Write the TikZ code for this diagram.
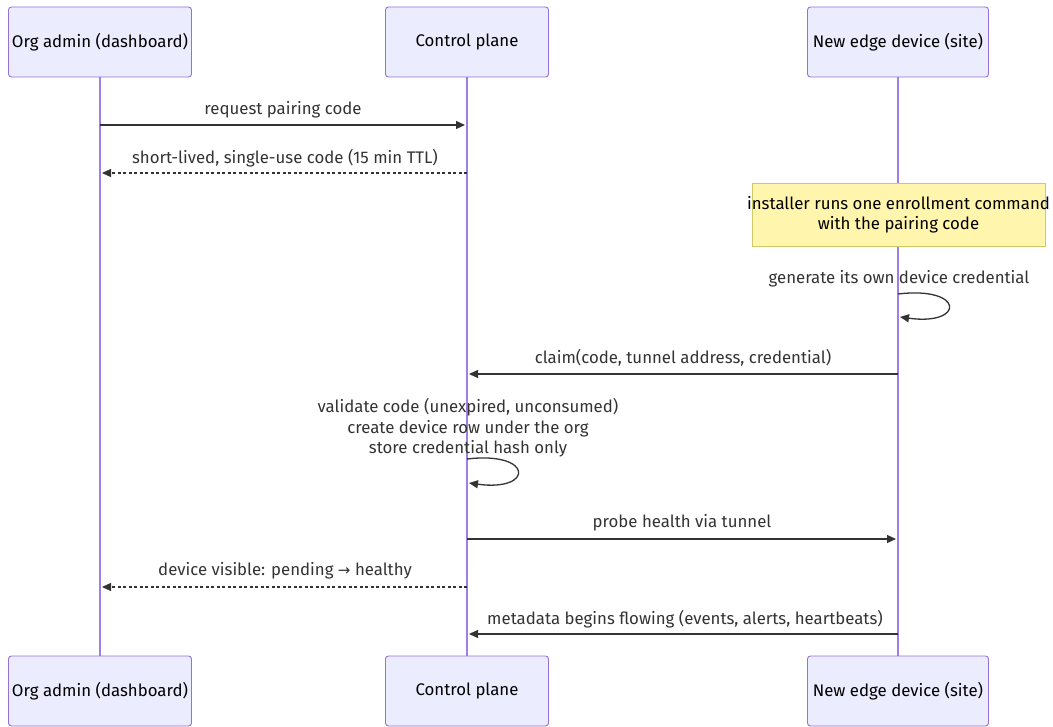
\documentclass[tikz,border=0pt]{standalone}
\usepackage{fontspec}
\setmainfont{Fira Sans}
\newfontfamily\symfont{DejaVu Sans}
\usetikzlibrary{arrows.meta}
\definecolor{actfill}{HTML}{ECECFF}
\definecolor{actdraw}{HTML}{9370DB}
\definecolor{lifeline}{HTML}{9F7FE3}
\definecolor{notefill}{HTML}{FFF5AD}
\definecolor{notedraw}{HTML}{CCCC66}
\definecolor{msg}{HTML}{333333}
\tikzset{
  actor/.style={draw=actdraw, fill=actfill, rounded corners=3pt, line width=0.9pt, minimum height=70pt, inner sep=0pt, font=\fontsize{16.8}{20}\selectfont, text=black},
  life/.style={draw=lifeline, line width=1.6pt},
  msgline/.style={draw=msg, line width=1.3pt, -{Triangle[length=9pt,width=8pt]}},
  dmsg/.style={msgline, dash pattern=on 3pt off 2.5pt},
  lbl/.style={font=\fontsize{16.8}{20}\selectfont, text=msg, inner sep=0pt, align=center},
  note/.style={draw=notedraw, fill=notefill, line width=0.9pt, minimum width=293pt, minimum height=63pt, inner ysep=0pt, inner xsep=-8pt, font=\fontsize{16.8}{20}\selectfont, align=center, text=black}
}
\begin{document}
\begin{tikzpicture}[x=1pt,y=-1pt]
\useasboundingbox (0,0) rectangle (1053,727);
% lifelines
\coordinate (At) at (100,77); \coordinate (Ab) at (100,657);
\coordinate (Ct) at (467,77); \coordinate (Cb) at (467,657);
\coordinate (Et) at (898,77); \coordinate (Eb) at (898,657);
\draw[life] (At) -- (Ab);
\draw[life] (Ct) -- (Cb);
\draw[life] (Et) -- (Eb);
% actors
\node[actor, minimum width=183pt] (A1) at (100,42) {Org admin (dashboard)};
\node[actor, minimum width=163pt] (C1) at (467,42) {Control plane};
\node[actor, minimum width=181pt] (E1) at (898,42) {New edge device (site)};
\node[actor, minimum width=183pt] (A2) at (100,691) {Org admin (dashboard)};
\node[actor, minimum width=163pt] (C2) at (467,691) {Control plane};
\node[actor, minimum width=181pt] (E2) at (898,691) {New edge device (site)};
% anchors on lifelines
\coordinate (a1) at (100,125); \coordinate (c1) at (465,125);
\coordinate (c2) at (467,173); \coordinate (a2) at (102,173);
\coordinate (e3) at (898,374); \coordinate (c3) at (469,374);
\coordinate (c4) at (467,539); \coordinate (e4) at (896,539);
\coordinate (c5) at (467,587); \coordinate (a5) at (102,587);
\coordinate (e6) at (898,634); \coordinate (c6) at (469,634);
\coordinate (el1) at (898,294); \coordinate (el2) at (900,317);
\coordinate (cl1) at (467,459); \coordinate (cl2) at (469,483);
% messages
\node[lbl] (t1) at (283,110) {request pairing code};
\draw[msgline] (a1) -- (c1);
\node[lbl] (t2) at (285,158) {short-lived, single-use code (15 min TTL)};
\draw[dmsg] (c2) -- (a2);
\node[note] (n1) at (898.5,215) {installer runs one enrollment command\\with the pairing code};
\node[lbl] (t3) at (899,279) {generate its own device credential};
\draw[msgline] (el1) .. controls (965,286) and (965,326) .. (el2);
\node[lbl] (t4) at (683,358) {claim(code, tunnel address, credential)};
\draw[msgline] (e3) -- (c3);
\node[lbl, font=\fontsize{16.8}{20.5}\selectfont] (t5) at (468,428) {validate code (unexpired, unconsumed)\\create device row under the org\\store credential hash only};
\draw[msgline] (cl1) .. controls (534,451) and (534,492) .. (cl2);
\node[lbl] (t6) at (682,523) {probe health via tunnel};
\draw[msgline] (c4) -- (e4);
\node[lbl] (t7) at (285,571) {device visible: pending {\symfont\fontsize{15}{17}\selectfont→} healthy};
\draw[dmsg] (c5) -- (a5);
\node[lbl] (t8) at (685,619) {metadata begins flowing (events, alerts, heartbeats)};
\draw[msgline] (e6) -- (c6);
\end{tikzpicture}
\end{document}
